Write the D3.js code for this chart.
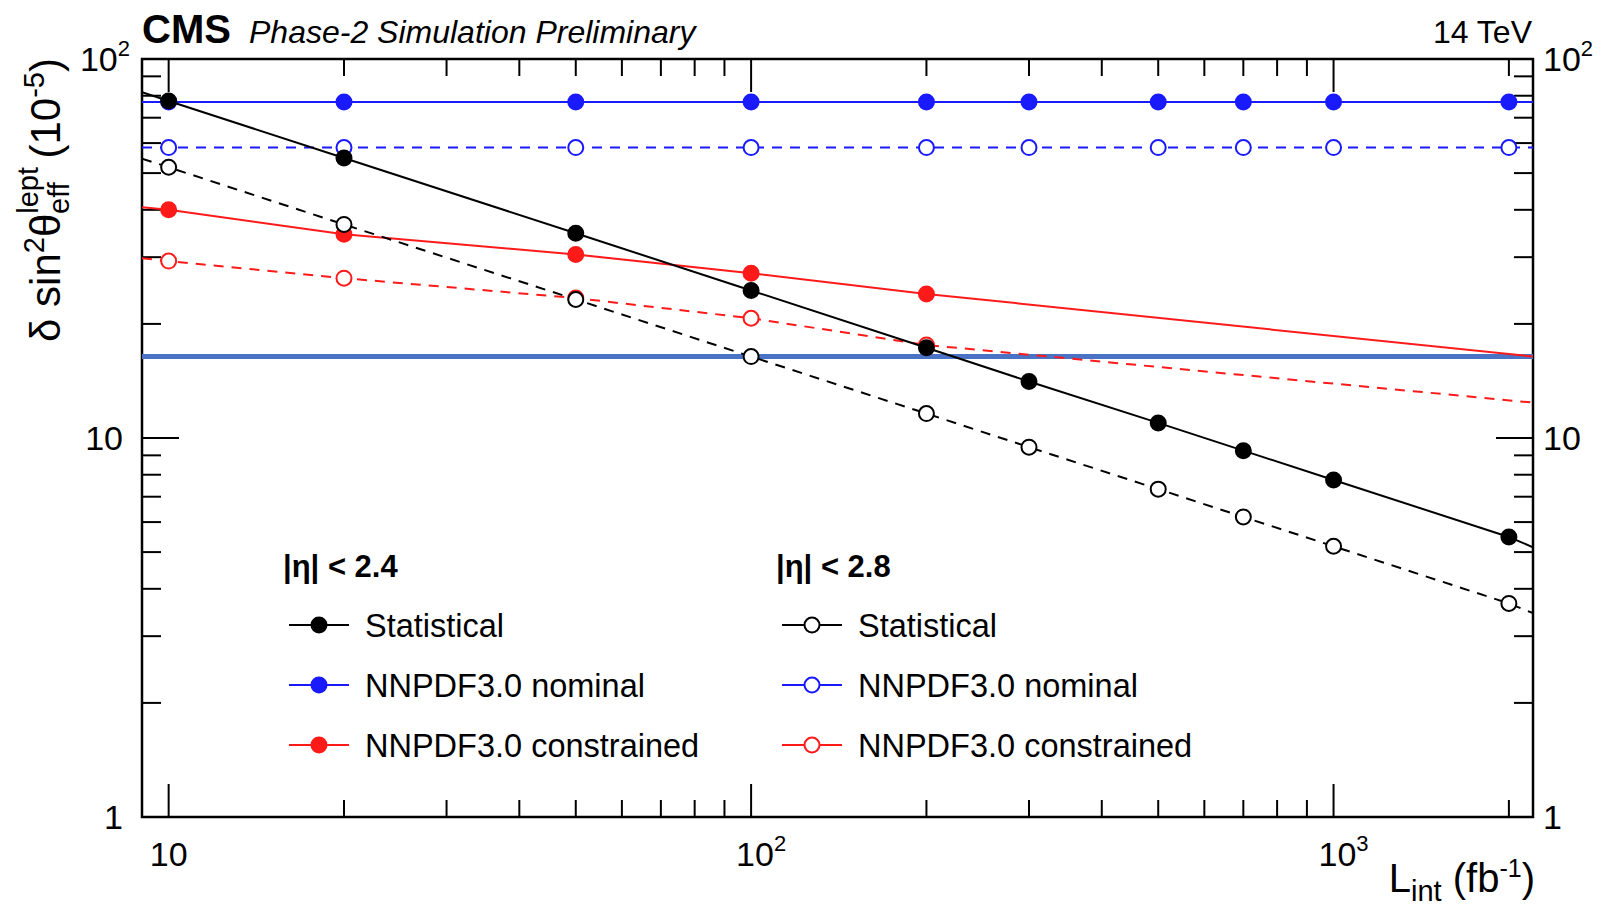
<!DOCTYPE html>
<html><head><meta charset="utf-8">
<script src="https://cdn.jsdelivr.net/npm/d3@7"></script>
<style>body{margin:0;background:#fff}text{font-family:"Liberation Sans",Arial,sans-serif}</style>
</head><body><svg id="c" width="1611" height="917"></svg>
<script>
const lumi = [10,20,50,100,200,300,500,700,1000,2000];
const statSolid = [77.5,54.8,34.7,24.5,17.3,14.1,10.96,9.26,7.75,5.48];
const statOpen  = [51.8,36.6,23.2,16.4,11.6,9.46,7.33,6.19,5.18,3.66];
const nomSolid  = [77,77,77,77,77,77,77,77,77,77];
const nomOpen   = [58.4,58.4,58.4,58.4,58.4,58.4,58.4,58.4,58.4,58.4];
const conLumi   = [10,20,50,100,200];
const conSolid  = [40.0,34.5,30.5,27.2,24.0];
const conOpen   = [29.3,26.4,23.4,20.7,17.6];
const edgeX = [9, 2200];
const edgeStatSolid = [81.7,5.15], edgeStatOpen=[54.6,3.45], edgeConSolid=[40.6,16.4], edgeConOpen=[29.8,12.4];
const targetLine = 16.4;
const xTickVals=[10,100,1000], yTickVals=[1,10,100];

const L=142,R=1533,T=59,B=817;
const svg=d3.select("#c");
const x=d3.scaleLog().domain([9,2200]).range([L,R]);
const y=d3.scaleLog().domain([1,100]).range([B,T]);
const g=svg.append("g");
svg.append("clipPath").attr("id","cp").append("rect").attr("x",L).attr("y",T).attr("width",R-L).attr("height",B-T);
const pg=svg.append("g").attr("clip-path","url(#cp)");

const minorX=[]; for(let d=1;d<=1000;d*=10) for(let k=1;k<10;k++){const v=k*d; if(v>=9&&v<=2200) minorX.push(v);}
const minorY=[]; for(let d=1;d<=10;d*=10) for(let k=1;k<=10;k++) minorY.push(k*d);
minorX.forEach(v=>{const maj=xTickVals.includes(v);const len=maj?33:17;
  g.append("line").attr("x1",x(v)).attr("x2",x(v)).attr("y1",B).attr("y2",B-len).attr("stroke","#000").attr("stroke-width",2);
  g.append("line").attr("x1",x(v)).attr("x2",x(v)).attr("y1",T).attr("y2",T+len).attr("stroke","#000").attr("stroke-width",2);});
minorY.forEach(v=>{const maj=yTickVals.includes(v);const len=maj?37:19;
  g.append("line").attr("y1",y(v)).attr("y2",y(v)).attr("x1",L).attr("x2",L+len).attr("stroke","#000").attr("stroke-width",2);
  g.append("line").attr("y1",y(v)).attr("y2",y(v)).attr("x1",R).attr("x2",R-len).attr("stroke","#000").attr("stroke-width",2);});

pg.append("line").attr("x1",L).attr("x2",R).attr("y1",y(targetLine)).attr("y2",y(targetLine)).attr("stroke","#4a73c6").attr("stroke-width",5);

const line=d3.line().x(d=>x(d[0])).y(d=>y(d[1]));
function series(xs,vals,edge,color,dash,filled){
  const pts=xs.map((v,i)=>[v,vals[i]]);
  const all=edge?[[edgeX[0],edge[0]],...pts,[edgeX[1],edge[1]]]:[[edgeX[0],vals[0]],...pts,[edgeX[1],vals[vals.length-1]]];
  pg.append("path").attr("d",line(all)).attr("fill","none").attr("stroke",color).attr("stroke-width",2).attr("stroke-dasharray",dash?"10,8":null);
  pg.selectAll(null).data(pts).enter().append("circle").attr("cx",d=>x(d[0])).attr("cy",d=>y(d[1])).attr("r",7.5)
    .attr("fill",filled?color:"#fff").attr("stroke",color).attr("stroke-width",2);
}
series(lumi,nomSolid,null,"#1a1aff",false,true);
series(lumi,nomOpen,null,"#1a1aff",true,false);
series(conLumi,conOpen,edgeConOpen,"#ff1a1a",true,false);
series(conLumi,conSolid,edgeConSolid,"#ff1a1a",false,true);
series(lumi,statOpen,edgeStatOpen,"#000",true,false);
series(lumi,statSolid,edgeStatSolid,"#000",false,true);

g.append("rect").attr("x",L).attr("y",T).attr("width",R-L).attr("height",B-T).attr("fill","none").attr("stroke","#000").attr("stroke-width",2.5);

function powLabel(sel,v,anchor){const e=Math.round(Math.log10(v));
  if(e===0){sel.text("1");} else if(e===1){sel.text("10");} else {sel.append("tspan").text("10");sel.append("tspan").attr("dy",-15).attr("font-size",22).text(e);}
  sel.attr("text-anchor",anchor);}
yTickVals.forEach(v=>{
  powLabel(svg.append("text").attr("x",v===100?130:123).attr("y",y(v)+12).attr("font-size",34),v,"end");
  powLabel(svg.append("text").attr("x",1543).attr("y",y(v)+12).attr("font-size",34),v,"start");});
xTickVals.forEach(v=>{powLabel(svg.append("text").attr("x",x(v)+(v===10?0:10)).attr("y",866).attr("font-size",34),v,"middle");});

svg.append("text").attr("x",142).attr("y",43).attr("font-size",40).attr("font-weight","bold").text("CMS");
svg.append("text").attr("x",249).attr("y",43).attr("font-size",32).attr("font-style","italic").text("Phase-2 Simulation Preliminary");
svg.append("text").attr("x",1532).attr("y",43).attr("font-size",32).attr("text-anchor","end").text("14 TeV");

const xl=svg.append("text").attr("x",1535).attr("y",892).attr("font-size",40).attr("text-anchor","end");
xl.append("tspan").text("L");xl.append("tspan").attr("dy",9).attr("font-size",29).text("int");
xl.append("tspan").attr("dy",-9).text(" (fb");xl.append("tspan").attr("dy",-15).attr("font-size",25).text("-1");
xl.append("tspan").attr("dy",15).text(")");

const yl=svg.append("text").attr("transform","translate(60,200) rotate(-90)").attr("font-size",42).attr("text-anchor","middle");
yl.append("tspan").text("δ sin");yl.append("tspan").attr("dy",-16).attr("font-size",29).text("2");
yl.append("tspan").attr("dy",16).text("θ");
yl.append("tspan").attr("dy",-22).attr("font-size",29).text("lept");
yl.append("tspan").attr("dx",-47).attr("dy",31).attr("font-size",29).text("eff");
yl.append("tspan").attr("dx",12).attr("dy",-9).text(" (10");
yl.append("tspan").attr("dy",-16).attr("font-size",29).text("-5");
yl.append("tspan").attr("dy",16).text(")");

const legNames=["Statistical","NNPDF3.0 nominal","NNPDF3.0 constrained"];
const legColors=["#000","#1a1aff","#ff1a1a"];
const cols=[{x:283,head:"|η| < 2.4",filled:true},{x:776,head:"|η| < 2.8",filled:false}];
cols.forEach(c=>{
  svg.append("text").attr("x",c.x).attr("y",577).attr("font-size",31).attr("font-weight","bold").text(c.head);
  legNames.forEach((n,i)=>{const yy=625+i*60;
    svg.append("line").attr("x1",c.x+6).attr("x2",c.x+66).attr("y1",yy).attr("y2",yy).attr("stroke",legColors[i]).attr("stroke-width",2);
    svg.append("circle").attr("cx",c.x+36).attr("cy",yy).attr("r",7.5).attr("fill",c.filled?legColors[i]:"#fff").attr("stroke",legColors[i]).attr("stroke-width",2);
    svg.append("text").attr("x",c.x+82).attr("y",yy+12).attr("font-size",32.5).text(n);});
});
</script></body></html>
